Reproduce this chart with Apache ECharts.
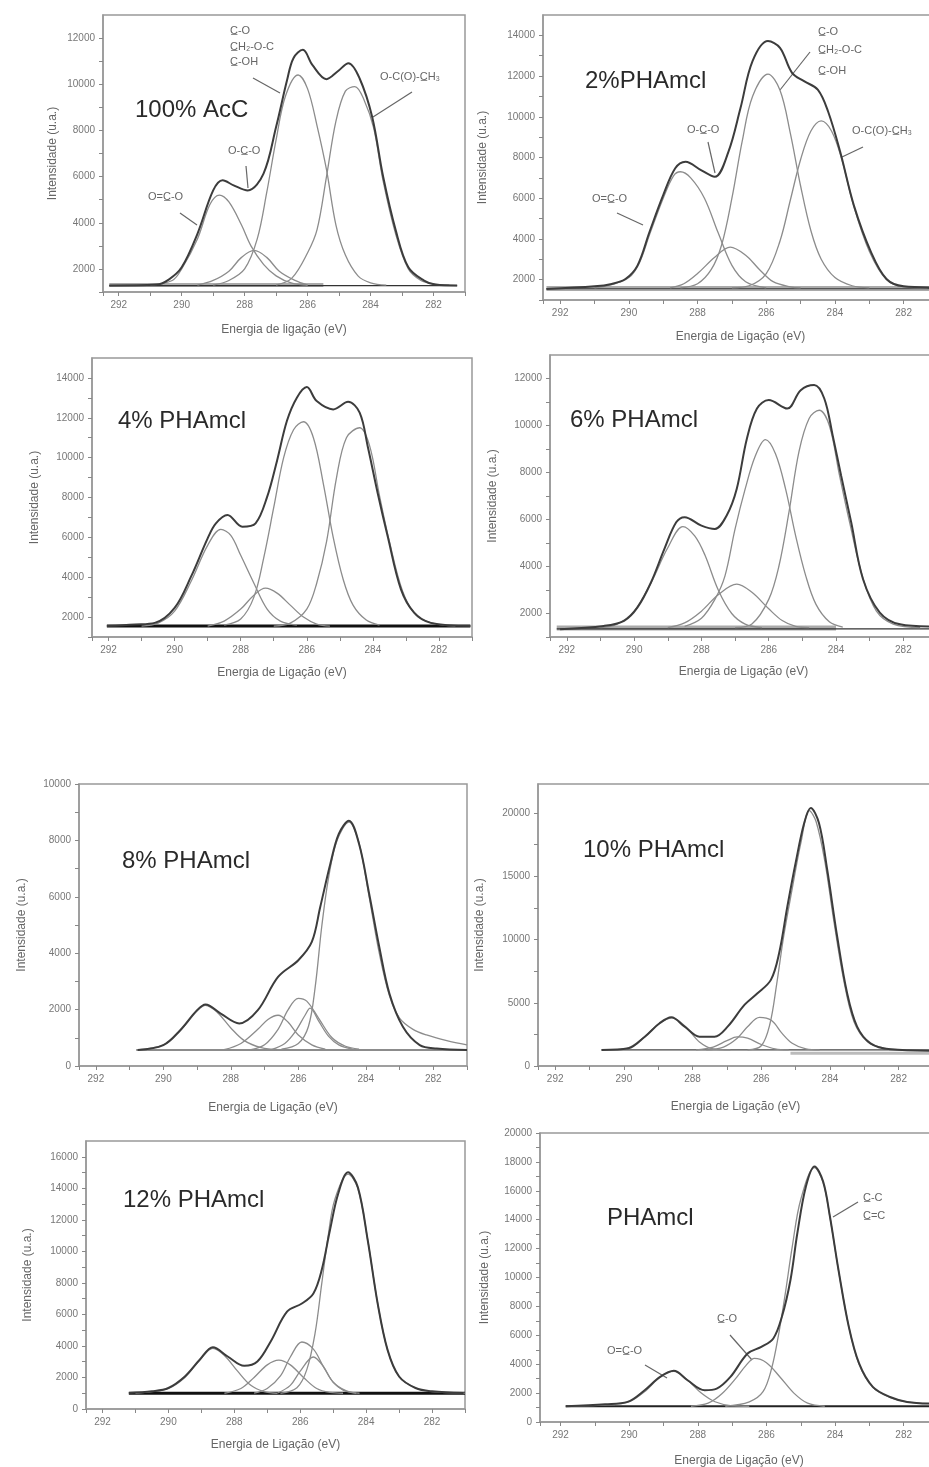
<!DOCTYPE html>
<html>
<head>
<meta charset="utf-8">
<script src="https://cdn.jsdelivr.net/npm/echarts@6/dist/echarts.min.js"></script>
<style>
html,body{margin:0;padding:0;background:#fff}
#chart{width:929px;height:1467px}
</style>
</head>
<body>
<div id="chart"></div>
<script>
// C1s XPS spectra: binding energy (eV) vs intensity (a.u.), envelope + fitted components

// ---- tick labels ----
const xTickLabels = [292, 290, 288, 286, 284, 282];
const yLabels_ac100 = [2000, 4000, 6000, 8000, 10000, 12000];
const yLabels_p2 = [2000, 4000, 6000, 8000, 10000, 12000, 14000];
const yLabels_p4 = [2000, 4000, 6000, 8000, 10000, 12000, 14000];
const yLabels_p6 = [2000, 4000, 6000, 8000, 10000, 12000];
const yLabels_p8 = [0, 2000, 4000, 6000, 8000, 10000];
const yLabels_p10 = [0, 5000, 10000, 15000, 20000];
const yLabels_p12 = [0, 2000, 4000, 6000, 8000, 10000, 12000, 14000, 16000];
const yLabels_pha = [0, 2000, 4000, 6000, 8000, 10000, 12000, 14000, 16000, 18000, 20000];

// ---- 100% AcC ----
const ac100_soma = [[292.3,1280],[290.8,1320],[290.4,1550],[290.0,2070],[289.5,3520],[289.0,5400],[288.7,5840],[288.35,5620],[287.9,5400],[287.4,6130],[287.0,8160],[286.65,10190],[286.45,11130],[286.15,11490],[285.85,10840],[285.4,10220],[285.05,10550],[284.7,10910],[284.35,10260],[283.95,8590],[283.6,5990],[283.2,3670],[282.8,2070],[282.3,1490],[281.95,1320],[281.25,1280]];
const ac100_c1 = [[291,1300],[290.3,1500],[290,2000],[289.5,3300],[289.1,4800],[288.8,5200],[288.5,4900],[288.1,3900],[287.8,3000],[287.4,2200],[287,1700],[286.5,1380],[286,1300]];
const ac100_c2 = [[289.5,1300],[289,1500],[288.5,1900],[288.1,2500],[287.7,2800],[287.3,2500],[286.9,1900],[286.4,1500],[286,1300]];
const ac100_c3 = [[289,1300],[288.5,1500],[288,2000],[287.6,3300],[287.3,5300],[287,7600],[286.7,9500],[286.3,10400],[286,9800],[285.7,8200],[285.4,6300],[285.1,3900],[284.8,2600],[284.4,1700],[284,1400],[283.5,1300]];
const ac100_c4 = [[287,1300],[286.5,1600],[286,2700],[285.7,3700],[285.4,6000],[285.1,8400],[284.8,9700],[284.5,9900],[284.2,9300],[283.9,8100],[283.6,5800],[283.2,3500],[282.8,2000],[282.4,1500],[282,1350],[281.5,1300]];
const ac100_fundo = [[292.3,1300],[285.5,1300]];
const ac100_base = [[292.3,1280],[281.25,1280]];

// ---- 2% PHAmcl ----
const p2_soma = [[292.4,1540],[291,1670],[290.5,1790],[290.1,2030],[289.75,2690],[289.4,4340],[289,6150],[288.65,7470],[288.35,7790],[287.9,7380],[287.5,7050],[287.1,8290],[286.75,10430],[286.4,12730],[285.95,13720],[285.6,13390],[285.25,12160],[284.9,11750],[284.5,11330],[284.2,10260],[283.85,8290],[283.45,5650],[282.95,3350],[282.5,2030],[282,1670],[281.25,1620]];
const p2_c1 = [[291,1600],[290.5,1750],[290,2100],[289.7,2800],[289.4,4200],[289,6000],[288.7,7100],[288.5,7300],[288.2,7000],[287.8,6000],[287.4,4300],[287,2700],[286.6,1900],[286,1600]];
const p2_c2 = [[288.8,1600],[288.4,1800],[288,2300],[287.5,3100],[287.05,3600],[286.6,3200],[286.2,2500],[285.8,1900],[285.3,1650],[285,1600]];
const p2_c3 = [[288.5,1600],[288,1800],[287.6,2500],[287.3,3700],[287,6000],[286.7,8800],[286.4,11000],[285.95,12100],[285.6,11300],[285.3,9200],[285,6600],[284.7,4400],[284.4,3000],[284,2100],[283.5,1700],[283,1600]];
const p2_c4 = [[287,1600],[286.5,1700],[286,2300],[285.6,3900],[285.3,5900],[285,7900],[284.7,9300],[284.4,9800],[284.1,9300],[283.8,7900],[283.45,5600],[283,3400],[282.5,2000],[282,1650],[281.3,1600]];
const p2_fundo = [[292.4,1560],[281.2,1560]];
const p2_base = [[292.4,1560],[281.2,1560]];

// ---- 4% PHAmcl ----
const p4_soma = [[292.05,1550],[291.2,1630],[290.6,1710],[290,2460],[289.5,4040],[289,5950],[288.75,6700],[288.4,7120],[287.95,6530],[287.55,6700],[287.2,8030],[286.9,9850],[286.6,11850],[286.3,13010],[286,13540],[285.7,12840],[285.2,12420],[284.75,12800],[284.4,12260],[284.15,10520],[283.85,8190],[283.55,6040],[283.15,3390],[282.75,2220],[282.25,1710],[281.05,1550]];
const p4_c1 = [[291,1550],[290.5,1700],[290,2300],[289.5,3800],[289,5600],[288.6,6400],[288.3,6100],[288,5100],[287.6,3700],[287.2,2400],[286.8,1800],[286.3,1600]];
const p4_c2 = [[289,1550],[288.5,1800],[288,2400],[287.6,3100],[287.25,3450],[286.9,3200],[286.5,2600],[286.1,2000],[285.7,1650],[285.3,1550]];
const p4_c3 = [[288.5,1600],[288,1900],[287.6,3000],[287.3,5000],[287,7500],[286.7,10000],[286.4,11400],[286.1,11800],[285.8,11000],[285.5,8700],[285.2,6000],[284.9,3900],[284.6,2600],[284.2,1850],[283.8,1600]];
const p4_c4 = [[287,1550],[286.5,1700],[286,2400],[285.7,3700],[285.4,5800],[285.1,9000],[284.8,11000],[284.4,11500],[284.1,10600],[283.8,8100],[283.5,5800],[283.1,3300],[282.7,2100],[282.2,1700],[281.5,1550]];
const p4_base = [[292.05,1550],[281.05,1550]];

// ---- 6% PHAmcl ----
const p6_soma = [[292.2,1330],[290.9,1470],[290.3,1690],[289.9,2260],[289.5,3320],[289.1,4750],[288.75,5880],[288.5,6100],[288,5740],[287.6,5600],[287.25,6170],[286.95,7310],[286.65,9440],[286.35,10720],[286,11080],[285.45,10720],[285.05,11500],[284.65,11720],[284.35,11150],[284.1,9580],[283.85,7870],[283.55,5880],[283.2,3470],[282.7,2040],[282.1,1540],[281.2,1450]];
const p6_c1 = [[291,1400],[290.5,1550],[290,2100],[289.5,3300],[289,4800],[288.55,5700],[288.2,5300],[287.9,4500],[287.5,3000],[287.1,2000],[286.7,1550],[286.2,1400]];
const p6_c2 = [[289,1400],[288.5,1600],[288,2100],[287.5,2800],[286.95,3250],[286.5,2900],[286,2200],[285.6,1700],[285.2,1450],[284.8,1400]];
const p6_c3 = [[288.5,1450],[288,1800],[287.6,2600],[287.3,3600],[287,5600],[286.7,7300],[286.4,8700],[286.1,9400],[285.8,8800],[285.5,7300],[285.2,5300],[284.9,3600],[284.6,2400],[284.2,1650],[283.8,1420]];
const p6_c4 = [[287,1400],[286.5,1550],[286,2600],[285.7,4000],[285.4,6300],[285.1,8900],[284.8,10300],[284.5,10650],[284.2,10000],[283.9,7900],[283.6,5900],[283.2,3500],[282.8,2100],[282.3,1550],[281.5,1400]];
const p6_fundo = [[292.3,1380],[284.0,1380]];
const p6_base = [[292.3,1350],[281.2,1350]];

// ---- 8% PHAmcl ----
const p8_soma = [[290.76,570],[290,740],[289.5,1270],[289,1980],[288.75,2180],[288.3,1860],[287.75,1510],[287.2,1980],[286.6,3160],[286,3750],[285.6,4400],[285.35,5640],[285.05,7170],[284.8,8230],[284.5,8700],[284.2,7880],[283.9,6110],[283.6,4220],[283.3,2570],[282.9,1390],[282.4,740],[281.9,620],[281,570]];
const p8_c1 = [[290.8,570],[290,750],[289.5,1250],[289,1950],[288.75,2150],[288.4,1900],[288,1350],[287.6,900],[287.1,650],[286.6,580]];
const p8_c2 = [[288.2,580],[287.7,800],[287.2,1300],[286.9,1650],[286.6,1800],[286.3,1550],[286,1100],[285.6,750],[285.2,600]];
const p8_c3 = [[287.4,580],[287,750],[286.6,1300],[286.3,2000],[286,2400],[285.75,2300],[285.4,1700],[285,1000],[284.6,700],[284.2,600]];
const p8_c4 = [[286.8,580],[286.4,800],[286.1,1200],[285.8,1800],[285.65,2050],[285.4,1600],[285.1,1050],[284.8,750],[284.4,600]];
const p8_c5 = [[286.5,600],[286,800],[285.7,1400],[285.5,2800],[285.3,5000],[285.1,6700],[284.85,8000],[284.5,8650],[284.2,7900],[283.9,6000],[283.6,4000],[283.3,2500],[283,1700],[282.6,1300],[282.2,1100],[281.6,900],[281,750]];
const p8_base = [[290.8,570],[281,570]];

// ---- 10% PHAmcl ----
const p10_soma = [[290.65,1270],[289.87,1400],[289.39,2320],[288.96,3380],[288.62,3850],[288.23,3110],[287.8,2320],[287.36,2320],[286.98,3110],[286.49,4830],[286.11,5750],[285.72,6810],[285.48,8920],[285.24,12610],[285.0,16050],[284.75,19210],[284.56,20400],[284.32,19210],[284.08,15520],[283.79,10240],[283.5,5750],[283.21,3110],[282.82,1790],[282.24,1320],[281.1,1210]];
const p10_c1 = [[290.4,1270],[289.9,1400],[289.4,2300],[289.0,3300],[288.6,3800],[288.2,3100],[287.8,1900],[287.4,1350],[286.9,1270]];
const p10_c2 = [[287.9,1270],[287.4,1500],[287.0,2000],[286.7,2300],[286.4,2200],[286.0,1700],[285.6,1350],[285.2,1270]];
const p10_c3 = [[287.6,1270],[287.1,1500],[286.7,2200],[286.4,3100],[286.05,3850],[285.7,3600],[285.4,2600],[285.1,1800],[284.7,1350],[284.3,1270]];
const p10_c4 = [[286.4,1270],[286.0,1600],[285.75,3300],[285.55,6500],[285.35,10200],[285.1,14000],[284.85,17600],[284.6,20200],[284.4,19300],[284.15,16200],[283.9,11700],[283.6,6800],[283.3,3500],[282.9,1900],[282.4,1400],[281.8,1270],[281.1,1250]];
const p10_fundo = [[285.15,1000],[281.1,1000]];
const p10_base = [[290.65,1270],[281.1,1270]];

// ---- 12% PHAmcl ----
const p12_soma = [[291.2,1010],[290.5,1120],[290,1330],[289.5,2060],[289.05,3120],[288.65,3920],[288.2,3330],[287.7,2740],[287.3,3010],[286.9,4270],[286.4,6170],[285.95,6690],[285.6,7330],[285.35,8800],[285.1,11320],[284.85,13640],[284.55,15010],[284.25,14060],[283.95,10690],[283.65,6690],[283.35,3750],[283,2060],[282.5,1330],[282,1120],[281.05,1010]];
const p12_c1 = [[291,1000],[290.5,1100],[290,1300],[289.5,2000],[289.05,3100],[288.65,3850],[288.3,3400],[287.9,2400],[287.5,1500],[287.1,1100],[286.7,1000]];
const p12_c2 = [[288.3,1000],[287.8,1300],[287.4,2000],[287,2800],[286.65,3100],[286.3,2800],[285.9,2000],[285.5,1300],[285.1,1050],[284.7,1000]];
const p12_c3 = [[287.4,1000],[287,1300],[286.6,2100],[286.3,3300],[285.95,4250],[285.6,3800],[285.3,2700],[285,1700],[284.7,1200],[284.3,1000]];
const p12_c4 = [[286.7,1000],[286.3,1500],[286,2400],[285.6,3300],[285.3,2700],[285,1700],[284.6,1150],[284.2,1000]];
const p12_c5 = [[286.6,1000],[286.1,1350],[285.8,2500],[285.55,4800],[285.35,7900],[285.15,11000],[284.95,13300],[284.55,14900],[284.25,14000],[283.95,10700],[283.65,6700],[283.35,3750],[283,2050],[282.5,1330],[282,1100],[281,1010]];
const p12_base = [[291.2,1000],[281,1000]];

// ---- PHAmcl ----
const pha_soma = [[291.85,1090],[290.7,1230],[290.05,1390],[289.55,2200],[289.1,3120],[288.7,3540],[288.3,2890],[287.8,2200],[287.45,2310],[287.05,3120],[286.55,4740],[286.15,5200],[285.8,5780],[285.55,7280],[285.3,9830],[285.1,13060],[284.85,16300],[284.6,17690],[284.35,16650],[284.15,14220],[283.9,10520],[283.6,6590],[283.3,4050],[282.9,2430],[282.4,1730],[281.9,1390],[281.2,1270]];
const pha_c1 = [[291.8,1090],[290.5,1200],[290,1400],[289.5,2200],[289.1,3100],[288.7,3500],[288.3,2900],[287.9,2000],[287.5,1400],[287,1120],[286.5,1090]];
const pha_c2 = [[288.2,1090],[287.7,1300],[287.3,1950],[286.9,3000],[286.6,3900],[286.35,4400],[286,4100],[285.6,3100],[285.2,2000],[284.8,1300],[284.3,1090]];
const pha_c3 = [[287.2,1090],[286.5,1400],[286.1,2100],[285.85,3700],[285.65,6000],[285.45,8900],[285.25,12100],[285,15400],[284.6,17600],[284.35,16600],[284.15,14200],[283.9,10500],[283.6,6600],[283.3,4000],[282.9,2400],[282.4,1700],[281.9,1400],[281.2,1270]];
const pha_base = [[291.85,1090],[281.2,1090]];

// ---- panel definitions: data + axis ranges ----
const paineis = [
  { titulo:'100% AcC', xNome:'Energia de ligação (eV)', xMax:292.5, yMin:1000, yMax:13000, yPasso:1000, yLabels:yLabels_ac100,
    soma:ac100_soma, comps:[ac100_c1,ac100_c2,ac100_c3,ac100_c4], fundo:ac100_fundo, base:ac100_base },
  { titulo:'2%PHAmcl', xNome:'Energia de Ligação (eV)', xMax:292.5, yMin:1000, yMax:15000, yPasso:1000, yLabels:yLabels_p2,
    soma:p2_soma, comps:[p2_c1,p2_c2,p2_c3,p2_c4], fundo:p2_fundo, base:p2_base },
  { titulo:'4% PHAmcl', xNome:'Energia de Ligação (eV)', xMax:292.5, yMin:1000, yMax:15000, yPasso:1000, yLabels:yLabels_p4,
    soma:p4_soma, comps:[p4_c1,p4_c2,p4_c3,p4_c4], fundo:null, base:p4_base },
  { titulo:'6% PHAmcl', xNome:'Energia de Ligação (eV)', xMax:292.5, yMin:1000, yMax:13000, yPasso:1000, yLabels:yLabels_p6,
    soma:p6_soma, comps:[p6_c1,p6_c2,p6_c3,p6_c4], fundo:p6_fundo, base:p6_base },
  { titulo:'8% PHAmcl', xNome:'Energia de Ligação (eV)', xMax:292.5, yMin:0, yMax:10000, yPasso:1000, yLabels:yLabels_p8,
    soma:p8_soma, comps:[p8_c1,p8_c2,p8_c3,p8_c4,p8_c5], fundo:null, base:p8_base },
  { titulo:'10% PHAmcl', xNome:'Energia de Ligação (eV)', xMax:292.5, yMin:0, yMax:22300, yPasso:2500, yLabels:yLabels_p10,
    soma:p10_soma, comps:[p10_c1,p10_c2,p10_c3,p10_c4], fundo:p10_fundo, base:p10_base },
  { titulo:'12% PHAmcl', xNome:'Energia de Ligação (eV)', xMax:292.5, yMin:0, yMax:17000, yPasso:1000, yLabels:yLabels_p12,
    soma:p12_soma, comps:[p12_c1,p12_c2,p12_c3,p12_c4,p12_c5], fundo:null, base:p12_base },
  { titulo:'PHAmcl', xNome:'Energia de Ligação (eV)', xMax:292.6, yMin:0, yMax:20000, yPasso:1000, yLabels:yLabels_pha,
    soma:pha_soma, comps:[pha_c1,pha_c2,pha_c3], fundo:null, base:pha_base }
];

// ---- layout (pixels) ----
const layout = [
  { left:103, top:15,   width:362, height:277, xGap:32, yGap:44, tx:135, ty:112, baseCor:'#333', baseLarg:1.2, fundoLarg:4, fundoCor:'#aaa' },
  { left:543, top:15,   width:395, height:285, xGap:31, yGap:54, tx:585, ty:83,  baseCor:'#555', baseLarg:1.2, fundoLarg:5, fundoCor:'#aaa' },
  { left:92,  top:358,  width:380, height:279, xGap:30, yGap:51, tx:118, ty:423, baseCor:'#111', baseLarg:3 },
  { left:550, top:355,  width:387, height:282, xGap:29, yGap:51, tx:570, ty:422, baseCor:'#333', baseLarg:1.2, fundoLarg:5, fundoCor:'#aaa' },
  { left:79,  top:784,  width:388, height:282, xGap:36, yGap:51, tx:122, ty:863, baseCor:'#666', baseLarg:1.5 },
  { left:538, top:784,  width:395, height:282, xGap:35, yGap:52, tx:583, ty:852, baseCor:'#444', baseLarg:1.2, fundoLarg:3, fundoCor:'#bbb' },
  { left:86,  top:1141, width:379, height:268, xGap:30, yGap:52, tx:123, ty:1202, baseCor:'#111', baseLarg:3 },
  { left:540, top:1133, width:398, height:289, xGap:33, yGap:49, tx:607, ty:1220, baseCor:'#222', baseLarg:2 }
];

const U = '\u0332';
const anotacoes = [
  { t:'O=C'+U+'-O', x:148, y:198 }, { t:'O-C'+U+'-O', x:228, y:152 },
  { t:'C'+U+'-O', x:230, y:32 }, { t:'C'+U+'H\u2082-O-C', x:230, y:48 }, { t:'C'+U+'-OH', x:230, y:63 },
  { t:'O-C(O)-C'+U+'H\u2083', x:380, y:78 },
  { t:'O=C'+U+'-O', x:592, y:200 }, { t:'O-C'+U+'-O', x:687, y:131 },
  { t:'C'+U+'-O', x:818, y:33 }, { t:'C'+U+'H\u2082-O-C', x:818, y:51 }, { t:'C'+U+'-OH', x:818, y:72 },
  { t:'O-C(O)-C'+U+'H\u2083', x:852, y:132 },
  { t:'O=C'+U+'-O', x:607, y:1352 }, { t:'C'+U+'-O', x:717, y:1320 },
  { t:'C'+U+'-C', x:863, y:1199 }, { t:'C'+U+'=C', x:863, y:1217 }
];
const ponteiros = [
  [180,213,197,225], [246,166,248,188], [253,78,280,93], [412,92,373,117],
  [617,213,643,225], [708,142,715,173], [810,52,780,90], [863,147,842,157],
  [645,1365,667,1378], [730,1335,752,1360], [858,1202,833,1217]
];

const FONTE = '"Liberation Sans", Arial, sans-serif';
const corEixo = '#999';
const grid = [], xAxis = [], yAxis = [], series = [];

paineis.forEach((p, i) => {
  const L = layout[i];
  grid.push({ left:L.left, top:L.top, width:L.width, height:L.height, show:true,
    outerBoundsMode:'none', containLabel:false,
    borderColor:corEixo, borderWidth:1.5, backgroundColor:'transparent' });
  xAxis.push({
    gridIndex:i, type:'value', inverse:true, min:281, max:p.xMax, interval:1,
    name:p.xNome, nameLocation:'middle', nameGap:L.xGap,
    nameTextStyle:{ color:'#666', fontSize:12, fontFamily:FONTE },
    axisLine:{ show:true, onZero:false, lineStyle:{ color:corEixo, width:1.5 } },
    axisTick:{ show:true, inside:false, length:4, lineStyle:{ color:'#888' } },
    axisLabel:{ color:'#777', fontSize:10, fontFamily:FONTE, margin:8,
      formatter: v => xTickLabels.includes(v) ? String(v) : '' },
    splitLine:{ show:false }
  });
  yAxis.push({
    gridIndex:i, type:'value', min:p.yMin, max:p.yMax, interval:p.yPasso,
    name:'Intensidade (u.a.)', nameLocation:'middle', nameGap:L.yGap, nameRotate:90,
    nameTextStyle:{ color:'#666', fontSize:12, fontFamily:FONTE },
    axisLine:{ show:true, onZero:false, lineStyle:{ color:corEixo, width:1.5 } },
    axisTick:{ show:true, inside:false, length:4, lineStyle:{ color:'#888' } },
    axisLabel:{ color:'#777', fontSize:10, fontFamily:FONTE, margin:8,
      showMaxLabel: p.yLabels.includes(p.yMax),
      formatter: v => p.yLabels.includes(v) ? String(v) : '' },
    splitLine:{ show:false }
  });
  const comum = { type:'line', xAxisIndex:i, yAxisIndex:i, showSymbol:false, silent:true, animation:false };
  if (p.fundo) series.push(Object.assign({}, comum, { data:p.fundo, z:1,
    lineStyle:{ color:L.fundoCor, width:L.fundoLarg } }));
  series.push(Object.assign({}, comum, { data:p.base, z:2,
    lineStyle:{ color:L.baseCor, width:L.baseLarg } }));
  p.comps.forEach(c => series.push(Object.assign({}, comum, { data:c, z:3,
    smooth:0.35, lineStyle:{ color:'#8c8c8c', width:1.3 } })));
  series.push(Object.assign({}, comum, { data:p.soma, z:4,
    smooth:0.35, lineStyle:{ color:'#3c3c3c', width:2 } }));
});

const graphic = [];
paineis.forEach((p, i) => {
  graphic.push({ type:'text', left:layout[i].tx, top:layout[i].ty - 14, silent:true,
    style:{ text:p.titulo, fill:'#2a2a2a', font:'24px ' + FONTE } });
});
anotacoes.forEach(a => graphic.push({ type:'text', left:a.x, top:a.y - 7, silent:true,
  style:{ text:a.t, fill:'#666', font:'11px ' + FONTE } }));
ponteiros.forEach(s => graphic.push({ type:'line', silent:true,
  shape:{ x1:s[0], y1:s[1], x2:s[2], y2:s[3] }, style:{ stroke:'#666', lineWidth:1.2 } }));

const chart = echarts.init(document.getElementById('chart'), null, { renderer:'canvas' });
chart.setOption({ backgroundColor:'#fff', animation:false, grid, xAxis, yAxis, series, graphic });
</script>
</body>
</html>
